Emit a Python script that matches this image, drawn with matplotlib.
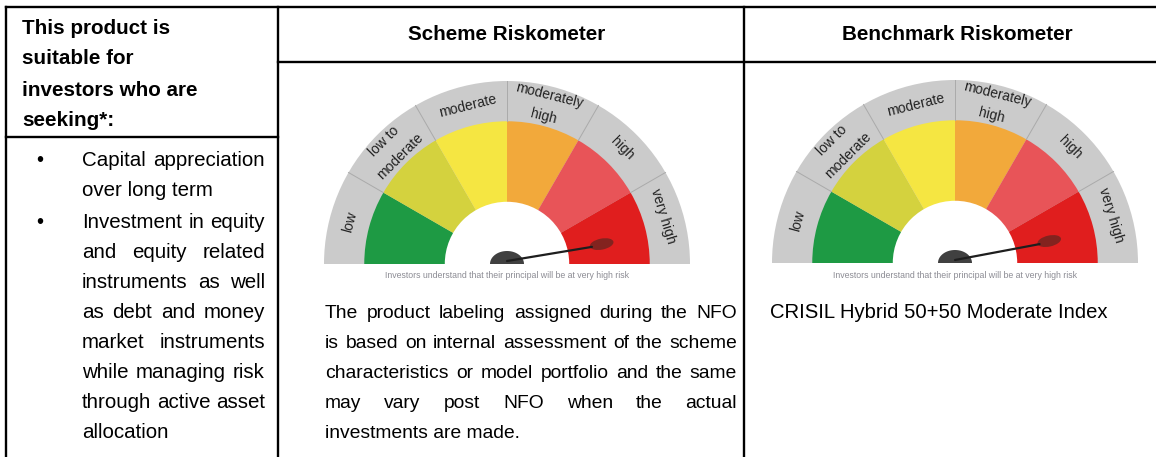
import matplotlib
matplotlib.use("Agg")
import matplotlib.pyplot as plt
from matplotlib.patches import Wedge, Ellipse, Polygon
import numpy as np

# ---------------- data ----------------
header_col1 = ["This product is", "suitable for", "investors who are", "seeking*:"]
header_scheme = "Scheme Riskometer"
header_benchmark = "Benchmark Riskometer"
bullets = [
    ["Capital appreciation", "over long term"],
    ["Investment in equity", "and equity related", "instruments as well",
     "as debt and money", "market instruments", "while managing risk",
     "through active asset", "allocation"],
]
scheme_note = [
    "The product labeling assigned during the NFO",
    "is based on internal assessment of the scheme",
    "characteristics or model portfolio and the same",
    "may vary post NFO when the actual",
    "investments are made.",
]
benchmark_name = "CRISIL Hybrid 50+50 Moderate Index"
risk_levels = [["low"], ["low to", "moderate"], ["moderate"],
               ["moderately", "high"], ["high"], ["very high"]]
risk_colors = ["#1e9a44", "#d4d23e", "#f5e642", "#f2a93b", "#e85458", "#e01e1e"]
scheme_risk = 5.62      # needle position on a 0-6 scale (very high)
benchmark_risk = 5.58
caption = "Investors understand that their principal will be at very high risk"

# ---------------- figure ----------------
W, H, DPI = 1156, 457, 100
fig = plt.figure(figsize=(W / DPI, H / DPI), dpi=DPI)
ax = fig.add_axes([0, 0, 1, 1])
ax.set_xlim(0, W)
ax.set_ylim(H, 0)
ax.axis("off")
renderer = fig.canvas.get_renderer()

FONT = "Liberation Sans"
body1 = dict(fontsize=14.8, family=FONT, color="black")
body2 = dict(fontsize=13.9, family=FONT, color="black")
body3 = dict(fontsize=14.6, family=FONT, color="black")
bold = dict(fontsize=14.9, family=FONT, color="black", fontweight="bold")

# table grid
LW = 1.7
L, C1, C2, R_ = 6, 278, 744, W
TOP, HDR, HDR1 = 7, 62, 137
def hline(y, x0, x1):
    ax.plot([x0, x1], [y, y], color="black", lw=LW, solid_capstyle="projecting")
def vline(x, y0, y1):
    ax.plot([x, x], [y0, y1], color="black", lw=LW, solid_capstyle="projecting")
hline(TOP, L, R_)
hline(HDR, C1, R_)
hline(HDR1, L, C1)
vline(L, TOP, H + 5)
vline(C1, TOP, H + 5)
vline(C2, TOP, H + 5)


def put_line(text, x0, x1, y, justify, style):
    words = text.split()
    if not justify or len(words) == 1:
        ax.text(x0, y, text, ha="left", va="center", **style)
        return
    widths = []
    for w in words:
        t = ax.text(0, 0, w, **style)
        widths.append(t.get_window_extent(renderer).width)
        t.remove()
    gap = (x1 - x0 - sum(widths)) / (len(words) - 1)
    x = x0
    for w, wd in zip(words, widths):
        ax.text(x, y, w, ha="left", va="center", **style)
        x += wd + gap


# headers
for i, line in enumerate(header_col1):
    ax.text(22, 28 + i * 31, line, ha="left", va="center", **bold)
ax.text(507, 35, header_scheme, ha="center", va="center", **bold)
ax.text(957, 35, header_benchmark, ha="center", va="center", **bold)

# bullets column 1
y = 160
for para in bullets:
    ax.text(40, y, "\u2022", ha="center", va="center", **body1)
    for j, line in enumerate(para):
        put_line(line, 82, 265, y, j < len(para) - 1, body1)
        y += 30
    y += 2

# scheme note
for j, line in enumerate(scheme_note):
    put_line(line, 325, 737, 313 + j * 30, j < len(scheme_note) - 1, body2)

ax.text(770, 313, benchmark_name, ha="left", va="center", **body3)


# ---------------- riskometer ----------------
def draw_gauge(cx, cy, R, value):
    n = len(risk_levels)
    step = 180 / n
    ax.add_patch(Wedge((cx, cy), R, 180, 360, facecolor="#cbcbcb", edgecolor="none"))
    r_out, r_in = 0.78 * R, 0.34 * R
    for i, col in enumerate(risk_colors):
        ax.add_patch(Wedge((cx, cy), r_out, 180 + step * i, 180 + step * (i + 1),
                           facecolor=col, edgecolor="none"))
    ax.add_patch(Wedge((cx, cy), r_in, 180, 360, facecolor="white", edgecolor="none"))
    # separators in the grey band
    for i in range(1, n):
        a = np.radians(180 - step * i)
        ax.plot([cx + r_out * np.cos(a), cx + R * np.cos(a)],
                [cy - r_out * np.sin(a), cy - R * np.sin(a)],
                color="#aaaaaa", lw=0.7)
    # labels
    label_angles = [165, 135, 104, 76, 45, 17]
    for lines, a in zip(risk_levels, label_angles):
        if len(lines) == 1:
            radii = [0.89 * R]
        else:
            radii = [0.95 * R, 0.83 * R]
        for txt, rr in zip(lines, radii):
            ar = np.radians(a)
            ax.text(cx + rr * np.cos(ar), cy - rr * np.sin(ar), txt,
                    rotation=a - 90, rotation_mode="anchor",
                    ha="center", va="center", fontsize=10, family=FONT,
                    color="#222222")
    # needle
    a = np.radians(180 - value * step)
    L_ = 0.55 * R
    ex, ey = cx + L_ * np.cos(a), cy - L_ * np.sin(a)
    ax.add_patch(Ellipse((ex - 4, ey), 24, 11, angle=-np.degrees(a),
                         facecolor="#642520", edgecolor="none", alpha=0.75))
    ax.plot([cx, ex - 14 * np.cos(a)], [cy - 3, ey + 14 * np.sin(a)],
            color="#1e1e1e", lw=1.6, solid_capstyle="round")
    t = np.linspace(0, np.pi, 40)
    hub = np.column_stack([cx + 17 * np.cos(t), cy - 13 * np.sin(t)])
    ax.add_patch(Polygon(hub, closed=True, facecolor="#404040", edgecolor="none"))
    ax.text(cx, cy + 12, caption, ha="center", va="center", fontsize=6.3,
            family=FONT, color="#8c8c94")


draw_gauge(507, 264, 183, scheme_risk)
draw_gauge(955, 263, 183, benchmark_risk)

fig.savefig("out.png", dpi=DPI)
